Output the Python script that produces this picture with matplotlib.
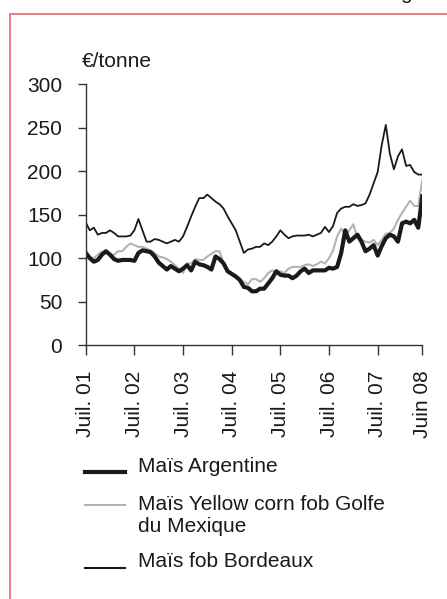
import numpy as np
import matplotlib
matplotlib.use("Agg")
import matplotlib.pyplot as plt
from matplotlib.lines import Line2D

plt.rcParams['font.family'] = ['Liberation Sans', 'DejaVu Sans']

# prix mensuels en euros par tonne, juillet 2001 -> juin 2008
argentine = [106, 100, 96, 98, 104, 108, 104, 99, 97, 98, 98, 98,
             97, 106, 109, 108, 107, 102, 95, 91, 87, 91, 88, 85,
             88, 92, 86, 96, 93, 92, 90, 87, 102, 99, 94, 85,
             82, 79, 75, 67, 66, 62, 62, 65, 65, 71, 77, 85,
             81, 80, 80, 77, 80, 85, 88, 83, 86, 86, 86, 86,
             89, 88, 90, 106, 132, 119, 123, 127, 119, 108, 111, 115,
             103, 114, 123, 127, 125, 119, 140, 142, 140, 144, 135, 171]
golfe = [109, 102, 100, 104, 108, 106, 104, 104, 108, 108, 113, 117,
         115, 113, 113, 111, 109, 106, 102, 101, 99, 96, 92, 88,
         83, 94, 94, 99, 98, 98, 102, 105, 108, 108, 94, 86,
         81, 79, 75, 73, 70, 76, 76, 73, 77, 83, 86, 83,
         85, 83, 88, 90, 90, 90, 92, 93, 91, 93, 96, 94,
         100, 109, 125, 134, 127, 132, 139, 123, 121, 119, 118, 121,
         115, 121, 128, 129, 134, 144, 152, 159, 166, 160, 160, 190]
bordeaux = [141, 132, 135, 127, 129, 129, 132, 129, 125, 125, 125, 126,
            132, 145, 132, 119, 119, 122, 121, 119, 117, 119, 121, 119,
            125, 136, 148, 159, 169, 169, 173, 169, 165, 162, 157, 148,
            140, 132, 119, 106, 110, 111, 113, 113, 117, 115, 119, 125,
            132, 127, 123, 125, 126, 126, 126, 127, 125, 127, 129, 136,
            130, 137, 152, 157, 159, 159, 162, 160, 161, 163, 173, 186,
            199, 230, 253, 220, 202, 217, 225, 206, 207, 199, 196, 196]

tick_months = [0, 12, 24, 36, 48, 60, 72, 83]
tick_labels = ["Juil. 01", "Juil. 02", "Juil. 03", "Juil. 04",
               "Juil. 05", "Juil. 06", "Juil. 07", "Juin 08"]
y_ticks = [0, 50, 100, 150, 200, 250, 300]

W, H = 447, 599
fig = plt.figure(figsize=(W / 100, H / 100), dpi=100)


def px(x, y):
    # pixel (depuis le haut-gauche) -> coordonnees figure
    return x / W, 1 - y / H


ax = fig.add_axes([85.7 / W, 1 - 345.3 / H, (422.3 - 85.7) / W, (345.3 - 84) / H])

months = np.arange(len(argentine))
ax.plot(months, golfe, color="#b3b3b3", lw=1.5, solid_joinstyle="round")
ax.plot(months, bordeaux, color="#1a1a1a", lw=1.3, solid_joinstyle="round")
ax.plot(months, argentine, color="#1a1a1a", lw=3.0, solid_joinstyle="round")

ax.set_xlim(0, 83)
ax.set_ylim(0, 300)
ax.set_yticks(y_ticks)
ax.set_xticks(tick_months)
ax.set_xticklabels(tick_labels, rotation=90, va="top", ha="center")
ax.tick_params(axis="y", length=6, width=1, color="#333333", pad=11,
               labelsize=15, labelcolor="#1a1a1a")
ax.tick_params(axis="x", length=7, width=1, color="#333333", pad=11,
               labelsize=15, labelcolor="#1a1a1a")
for s in ["top", "right"]:
    ax.spines[s].set_visible(False)
for s in ["left", "bottom"]:
    ax.spines[s].set_color("#333333")
    ax.spines[s].set_linewidth(1)

# unite
fig.text(*px(82, 67), "\u20ac/tonne", fontsize=15, color="#1a1a1a", va="baseline")

# legende
leg = [("Maïs Argentine", 3.0, "#1a1a1a", 471.5, 466.5),
       ("Maïs Yellow corn fob Golfe\ndu Mexique", 1.5, "#b3b3b3", 505, 515),
       ("Maïs fob Bordeaux", 1.5, "#1a1a1a", 567.5, 561.5)]
for label, lw, col, ly, ty in leg:
    x0, y0 = px(85, ly)
    x1, _ = px(125, ly)
    fig.add_artist(Line2D([x0, x1], [y0, y0], color=col, lw=lw, transform=fig.transFigure))
    fig.text(*px(137.5, ty), label, fontsize=15, color="#1a1a1a", va="center",
             linespacing=1.2)

# cadre rose
fx0, fy0 = px(9.5, 13.5)
fx1, fy1 = px(447, 599)
fig.add_artist(Line2D([fx0, fx1], [fy0, fy0], color="#f07888", lw=1.4, transform=fig.transFigure))
fig.add_artist(Line2D([fx0, fx0], [fy0, fy1], color="#f07888", lw=1.4, transform=fig.transFigure))

# fragment de texte coupe en haut
fig.text(*px(400, -1), "g", fontsize=15, color="#1a1a1a", va="baseline")

fig.savefig("out.png", dpi=100)
